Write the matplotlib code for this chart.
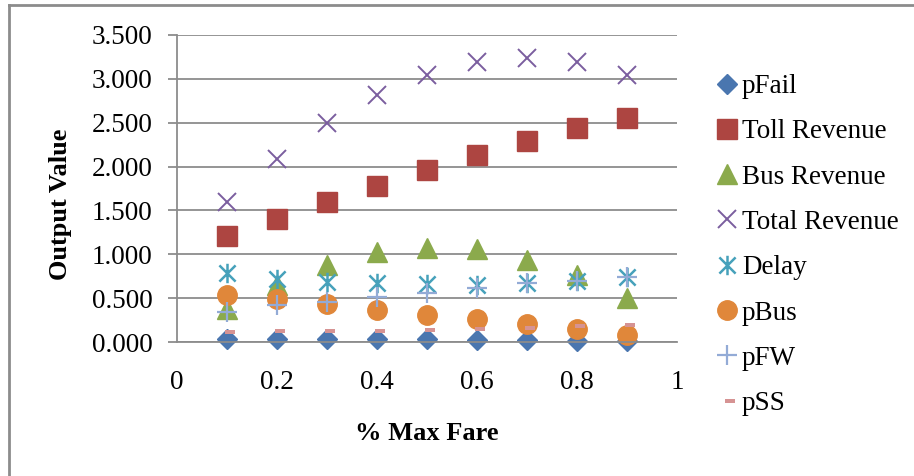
import matplotlib
matplotlib.use("Agg")
import matplotlib.pyplot as plt
from matplotlib.path import Path
from matplotlib.ticker import FormatStrFormatter

plt.rcParams['font.family'] = ['Liberation Serif', 'DejaVu Serif']

fare = [0.1, 0.2, 0.3, 0.4, 0.5, 0.6, 0.7, 0.8, 0.9]

p_fail = [0.03, 0.03, 0.03, 0.03, 0.03, 0.02, 0.02, 0.01, 0.01]
toll_revenue = [1.21, 1.40, 1.60, 1.78, 1.96, 2.13, 2.29, 2.44, 2.55]
bus_revenue = [0.38, 0.65, 0.88, 1.03, 1.07, 1.06, 0.94, 0.76, 0.50]
total_revenue = [1.60, 2.09, 2.50, 2.82, 3.04, 3.19, 3.24, 3.19, 3.04]
delay = [0.79, 0.72, 0.68, 0.67, 0.66, 0.65, 0.67, 0.70, 0.74]
p_bus = [0.54, 0.49, 0.43, 0.37, 0.31, 0.26, 0.20, 0.15, 0.08]
p_fw = [0.34, 0.42, 0.46, 0.51, 0.56, 0.61, 0.67, 0.69, 0.74]
p_ss = [0.11, 0.12, 0.12, 0.13, 0.14, 0.15, 0.16, 0.18, 0.19]

# asterisk: an X with a vertical stroke through it
star = Path([(-1, -1), (1, 1), (-1, 1), (1, -1), (0, -1.2), (0, 1.2)],
            [Path.MOVETO, Path.LINETO, Path.MOVETO, Path.LINETO,
             Path.MOVETO, Path.LINETO])
# short dash, sitting a little right of the point
dash = Path([(-0.2, -0.22), (1.0, -0.22), (1.0, 0.22), (-0.2, 0.22), (-0.2, -0.22)],
            [Path.MOVETO, Path.LINETO, Path.LINETO, Path.LINETO, Path.CLOSEPOLY])

series = [
    ("pFail", p_fail, dict(marker="D", ms=10, color="#4A76AF")),
    ("Toll Revenue", toll_revenue, dict(marker="s", ms=14, color="#AD4541")),
    ("Bus Revenue", bus_revenue, dict(marker="^", ms=15, color="#8BAA4C")),
    ("Total Revenue", total_revenue, dict(marker="x", ms=13, mew=1.4, color="#7B5E9F")),
    ("Delay", delay, dict(marker=star, ms=14, mew=1.8, color="#46A1BB", mfc="none")),
    ("pBus", p_bus, dict(marker="o", ms=14, color="#E0873A")),
    ("pFW", p_fw, dict(marker="+", ms=15, mew=1.6, color="#93ABD6")),
    ("pSS", p_ss, dict(marker=dash, ms=12, color="#D69393", mew=0)),
]

fig = plt.figure(figsize=(9.14, 4.76), dpi=100)
ax = fig.add_axes([177 / 914, 1 - 342 / 476, 500 / 914, 307 / 476])

for name, vals, st in series:
    ax.plot(fare, vals, linestyle="none", label=name, clip_on=False, **st)

ax.set_xlim(0, 1)
ax.set_ylim(0, 3.5)
ax.set_yticks([0, 0.5, 1, 1.5, 2, 2.5, 3, 3.5])
ax.yaxis.set_major_formatter(FormatStrFormatter("%.3f"))
ax.set_xticks([0, 0.2, 0.4, 0.6, 0.8, 1])
ax.set_xticklabels(["0", "0.2", "0.4", "0.6", "0.8", "1"])
ax.set_xticks([0, 1], minor=True)

ax.grid(axis="y", color="#8C8C8C", linewidth=1.3)
ax.set_axisbelow(True)
for s in ["top", "right"]:
    ax.spines[s].set_visible(False)
for s in ["left", "bottom"]:
    ax.spines[s].set_color("#8C8C8C")
    ax.spines[s].set_linewidth(1.3)

ax.tick_params(axis="y", length=6.5, width=1.3, color="#8C8C8C", pad=11, labelsize=19.5)
ax.tick_params(axis="x", which="major", length=0, pad=20, labelsize=19.5)
ax.tick_params(axis="x", which="minor", length=6, width=1.3, color="#8C8C8C")

fig.text(427 / 914, 1 - 434 / 476, "% Max Fare", ha="center", va="center",
         fontsize=19, fontweight="bold")
fig.text(61 / 914, 1 - 204 / 476, "Output Value", ha="center", va="center",
         rotation=90, fontsize=19, fontweight="bold")

fig.legend(loc="upper left", bbox_to_anchor=(719 / 914, 1 - 74 / 476),
           frameon=False, fontsize=19.5, handlelength=0.6, handletextpad=0.25,
           labelspacing=0.75, borderaxespad=0, borderpad=0)

# chart border along the left and top edges
fig.add_artist(plt.Line2D([9 / 914, 9 / 914], [0, 1 - 5 / 476],
                          transform=fig.transFigure, color="#8C8C8C", lw=2))
fig.add_artist(plt.Line2D([9 / 914, 1], [1 - 5 / 476, 1 - 5 / 476],
                          transform=fig.transFigure, color="#8C8C8C", lw=2))

fig.savefig("out.png", dpi=100)
